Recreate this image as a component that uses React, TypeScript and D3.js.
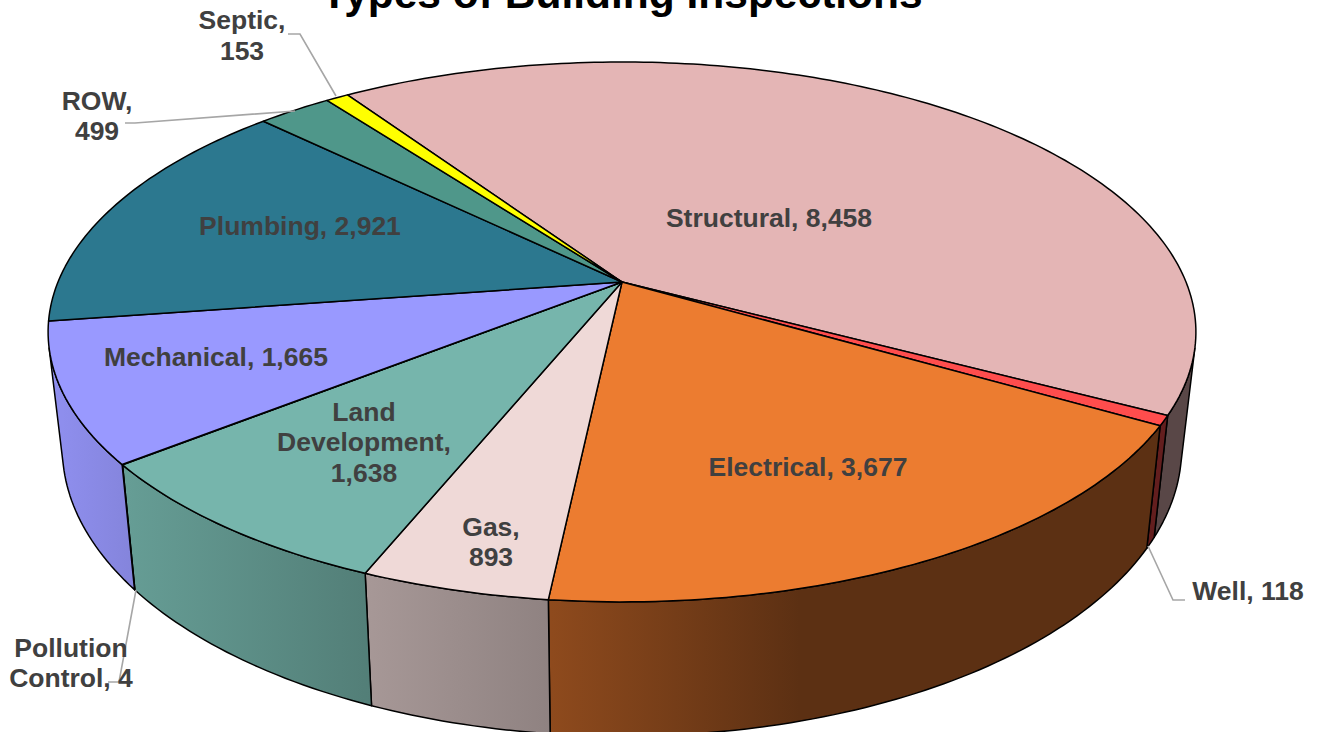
import * as d3 from 'd3'

const width = 1317
const height = 732

const categories = ['Structural', 'Well', 'Electrical', 'Gas', 'Land Development', 'Pollution Control', 'Mechanical', 'Plumbing', 'ROW', 'Septic']
const counts = [8458, 118, 3677, 893, 1638, 4, 1665, 2921, 499, 153]
const colors = ['#e4b5b5', '#ff4d4d', '#ec7c30', '#efd9d7', '#76b5ac', '#a5a5a5', '#9999ff', '#2c788f', '#4f978a', '#ffff00']

// side wall gets darker going left to right
const shadeX = [0, 62, 135, 365, 551, 800, 1317]
const shadeK = [0.95, 0.93, 0.86, 0.7, 0.6, 0.39, 0.39]

// label layout: centre x and one baseline per line
const labelLayout = [
  { x: 769, y: [227], lines: ['Structural, 8,458'] },
  { x: 1248, y: [600], lines: ['Well, 118'] },
  { x: 808, y: [476], lines: ['Electrical, 3,677'] },
  { x: 491, y: [536, 566], lines: ['Gas,', '893'] },
  { x: 364, y: [421, 451, 482], lines: ['Land', 'Development,', '1,638'] },
  { x: 71, y: [657, 687], lines: ['Pollution', 'Control, 4'] },
  { x: 216, y: [366], lines: ['Mechanical, 1,665'] },
  { x: 300, y: [235], lines: ['Plumbing, 2,921'] },
  { x: 97, y: [110, 140], lines: ['ROW,', '499'] },
  { x: 242, y: [29, 60], lines: ['Septic,', '153'] },
]

const leaders: [number, number][][] = [
  [[288, 34], [300, 34], [336, 96]],
  [[125, 123], [135, 123], [295, 111]],
  [[1148, 546], [1173, 600], [1185, 600]],
  [[136, 590], [119, 682], [108, 682]],
]

// perspective projection of the two discs
const cx = 622
const k = 0.185
const top = { a: 564, b: 260.7, cy: 282 }
const bottom = { a: 550, b: 278, cy: 395 }
const startAngle = (-34.15 * Math.PI) / 180

const project = (disc: typeof top, angle: number): [number, number] => {
  const X = Math.sin(angle)
  const Y = -Math.cos(angle)
  const w = 1 - k * Y
  return [cx + (disc.a * X) / w, disc.cy + (disc.b * Y) / w]
}

const arcAngles = (a0: number, a1: number) => {
  const n = Math.max(2, Math.ceil(((a1 - a0) * 180) / Math.PI))
  return d3.range(n + 1).map((i) => a0 + ((a1 - a0) * i) / n)
}

// the wall faces us where its edge and the rim tangent turn the right way
const facesViewer = (angle: number) => {
  const p = project(top, angle)
  const q = project(top, angle + 0.001)
  const e = project(bottom, angle)
  return (q[0] - p[0]) * (e[1] - p[1]) - (q[1] - p[1]) * (e[0] - p[0]) < 0
}

const scan = d3.range(0, 360, 0.25).map((d) => (d * Math.PI) / 180)
const visible = scan.filter(facesViewer)
const wallStart = d3.min(visible) as number
const wallEnd = d3.max(visible) as number

const line = d3.line()

function App() {
  const slices = d3.pie<number>().sort(null).startAngle(startAngle).endAngle(startAngle + 2 * Math.PI)(counts)

  const walls = slices
    .map((s, i) => {
      const a0 = Math.max(s.startAngle, wallStart)
      const a1 = Math.min(s.endAngle, wallEnd)
      return { i, a0, a1 }
    })
    .filter((w) => w.a1 > w.a0)

  return (
    <svg
      width={width}
      height={height}
      style={{ position: 'fixed', left: 0, top: 0, background: '#fff', fontFamily: '"Liberation Sans", Arial, sans-serif' }}
    >
      <defs>
        {colors.map((c, i) => (
          <linearGradient key={i} id={`wall-${i}`} gradientUnits="userSpaceOnUse" x1={0} x2={width} y1={0} y2={0}>
            {shadeX.map((x, j) => {
              const rgb = d3.rgb(c)
              return (
                <stop
                  key={j}
                  offset={x / width}
                  stopColor={d3.rgb(rgb.r * shadeK[j], rgb.g * shadeK[j], rgb.b * shadeK[j]).formatRgb()}
                />
              )
            })}
          </linearGradient>
        ))}
      </defs>

      <text x={622} y={8} textAnchor="middle" fontSize={42.5} fontWeight="bold" fill="#000">
        Types of Building Inspections
      </text>

      {walls.map((w) => {
        const angles = arcAngles(w.a0, w.a1)
        const pts = [...angles.map((a) => project(top, a)), ...angles.slice().reverse().map((a) => project(bottom, a))]
        return <path key={w.i} d={line(pts) + 'Z'} fill={`url(#wall-${w.i})`} stroke="#000" strokeWidth={1.5} strokeLinejoin="round" />
      })}

      {slices.map((s, i) => {
        const pts = [[cx, top.cy] as [number, number], ...arcAngles(s.startAngle, s.endAngle).map((a) => project(top, a))]
        return <path key={categories[i]} d={line(pts) + 'Z'} fill={colors[i]} stroke="#000" strokeWidth={1.5} strokeLinejoin="round" />
      })}

      {leaders.map((l, i) => (
        <path key={i} d={line(l) as string} fill="none" stroke="#a6a6a6" strokeWidth={1.6} />
      ))}

      {labelLayout.map((l, i) => (
        <text key={i} textAnchor="middle" fontSize={26.5} fontWeight="bold" fill="#404040">
          {l.lines.map((t, j) => (
            <tspan key={j} x={l.x} y={l.y[j]}>
              {t}
            </tspan>
          ))}
        </text>
      ))}
    </svg>
  )
}

export default App
